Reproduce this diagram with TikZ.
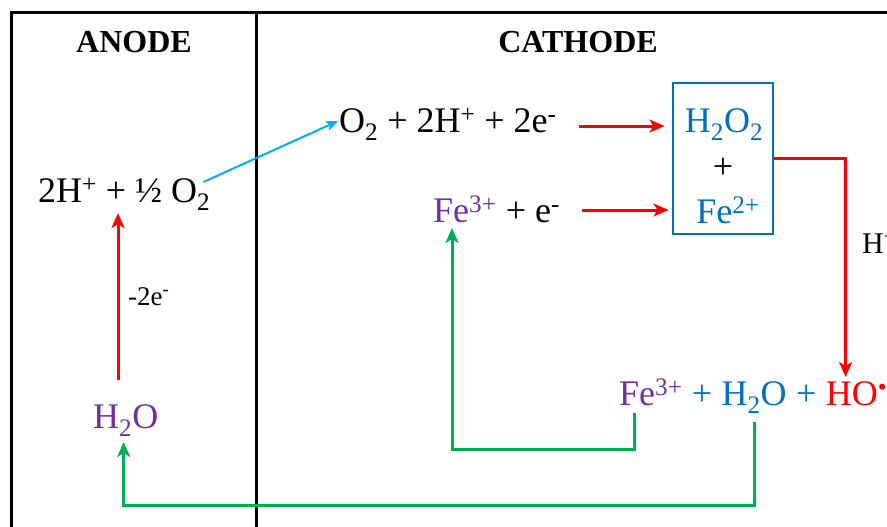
\documentclass[tikz,border=0pt]{standalone}
\usepackage{fontspec}
\setmainfont{Liberation Serif}
\usetikzlibrary{arrows.meta,calc}
\definecolor{cred}{RGB}{255,0,0}
\definecolor{cgreen}{RGB}{0,176,80}
\definecolor{ccyan}{RGB}{0,176,240}
\definecolor{cblue}{RGB}{0,112,192}
\definecolor{cpurple}{RGB}{112,48,160}
\begin{document}
\begin{tikzpicture}[x=1pt,y=-1pt,
  txt/.style={inner sep=0pt, anchor=base west, font=\fontsize{36}{40}\selectfont},
  ctxt/.style={inner sep=0pt, anchor=base, font=\fontsize{36}{40}\selectfont},
  head/.style={inner sep=0pt, anchor=base, font=\fontsize{32}{36}\selectfont\bfseries},
  small/.style={inner sep=0pt, anchor=base west, font=\fontsize{27}{30}\selectfont},
  frameline/.style={line width=3pt},
  redarr/.style={draw=cred, line width=3pt, -{Stealth[length=15pt,width=13pt,inset=4pt]}},
  greenarr/.style={draw=cgreen, line width=3pt, -{Stealth[length=15pt,width=13pt,inset=4pt]}},
  cyanarr/.style={draw=ccyan, line width=2pt, -{Stealth[length=12pt,width=10pt,inset=3pt]}},
  boxstyle/.style={draw=cblue, line width=2pt, minimum width=100pt, minimum height=151pt, inner sep=0pt}
]
\useasboundingbox (0,0) rectangle (887,527);
% frame
\draw[frameline] (11,540) -- (11,13) -- (900,13);
\draw[frameline] (256,13) -- (256,540);
% headings
\node[head] (anode) at (134,53) {ANODE};
\node[head] (cathode) at (578,53) {CATHODE};
% anode side
\node[txt] (lhs) at (38,202) {2H\textsuperscript{+} + ½ O\textsubscript{2}};
\node[small] (elec) at (128,305) {-2e\textsuperscript{-}};
\node[txt, text=cpurple] (h2oa) at (93,428) {H\textsubscript{2}O};
% cathode side
\node[txt] (o2eq) at (339,132) {O\textsubscript{2} + 2H\textsuperscript{+} + 2e\textsuperscript{-}};
\node[txt, text=cpurple] (fe3a) at (433,222) {Fe\textsuperscript{3+}};
\node[txt] (fe3aplus) at (fe3a.base east) {\kern0.25em+ e\textsuperscript{-}};
% box
\node[boxstyle] (box) at (722.5,158.5) {};
\node[ctxt, text=cblue] (h2o2) at (724,132) {H\textsubscript{2}O\textsubscript{2}};
\node[ctxt] (boxplus) at (723,178) {+};
\node[ctxt, text=cblue] (fe2) at (728,223) {Fe\textsuperscript{2+}};
% H+ label (cut at edge as in the reference)
\node[small, font=\fontsize{30}{34}\selectfont] (hplus) at (862,253) {H\textsuperscript{+}};
% bottom products
\node[txt, text=cpurple] (fe3b) at (619,405) {Fe\textsuperscript{3+}};
\node[txt, text=cblue] (plusb) at (fe3b.base east) {\kern0.25em+\kern0.25em};
\node[txt, text=cblue] (h2oc) at (plusb.base east) {H\textsubscript{2}O};
\node[txt, text=cblue] (plusc) at (h2oc.base east) {\kern0.25em+\kern0.25em};
\node[txt, text=cred] (ho) at (plusc.base east) {HO\textsuperscript{\textbullet}};
% connectors
\draw[redarr] ($(h2oa.base west)+(25,-48)$) -- ($(lhs.base west)+(80,11)$);
\draw[cyanarr] ($(lhs.base east)+(-7,-20)$) -- ($(o2eq.base west)+(-1,-11)$);
\draw[redarr] ($(o2eq.base east)+(22,-6)$) -- ($(box.west |- o2eq.base)+(-7,-6)$);
\draw[redarr] ($(fe3aplus.base east)+(22,-12)$) -- ($(box.west |- fe3a.base)+(-3,-12)$);
\draw[redarr] (box.east) -| ($(ho.base west)+(20,-28)$);
\draw[greenarr] ($(h2oc.base)+(0,17)$) -- ++(0,83) -| ($(h2oa.base)+(-2,14)$);
\draw[greenarr] ($(fe3b.base west)+(15,8)$) -- ++(0,36) -| ($(fe3a.base west)+(19,6)$);
\end{tikzpicture}
\end{document}
